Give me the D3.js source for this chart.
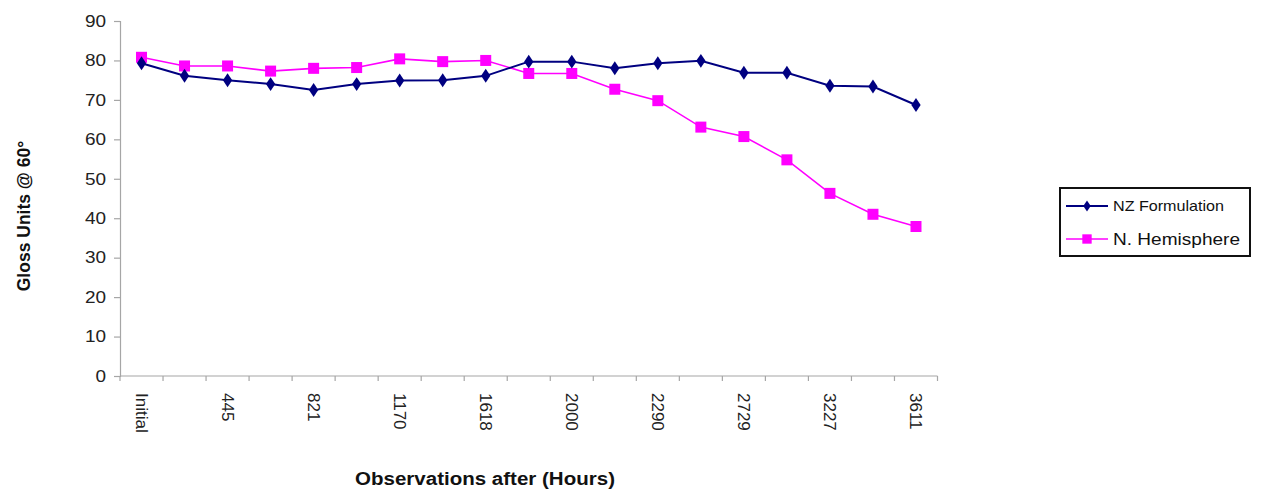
<!DOCTYPE html>
<html>
<head>
<meta charset="utf-8">
<script src="https://cdn.jsdelivr.net/npm/d3@7"></script>
<style>
  html, body { margin: 0; padding: 0; background: #fff; }
  svg { display: block; font-family: "Liberation Sans", Arial, sans-serif; }
</style>
</head>
<body>
<svg id="chart" width="1265" height="490"></svg>
<script>
// Observation points (hours); only every other one carries a printed label
const tickLabels = ["Initial", "", "445", "", "821", "", "1170", "", "1618", "",
                    "2000", "", "2290", "", "2729", "", "3227", "", "3611"];
const categories = tickLabels.map((_, i) => i);

// Gloss units at 60° for each formulation
const nzFormulation = [79.3, 76.1, 75.0, 74.0, 72.5, 74.0, 74.9, 75.0, 76.1, 79.7,
                       79.7, 78.0, 79.3, 79.9, 76.9, 76.9, 73.6, 73.4, 68.7];
const nHemisphere   = [80.8, 78.6, 78.6, 77.3, 78.0, 78.2, 80.4, 79.7, 80.0, 76.7,
                       76.7, 72.7, 69.8, 63.1, 60.7, 54.8, 46.3, 41.0, 37.9];
const yTicks = [0, 10, 20, 30, 40, 50, 60, 70, 80, 90];

const series = [
  { name: "NZ Formulation", values: nzFormulation, color: "#000080", shape: "diamond" },
  { name: "N. Hemisphere",  values: nHemisphere,   color: "#ff00ff", shape: "square" }
];

const svg = d3.select("#chart");
const plot = { left: 120, right: 937.5, top: 21, bottom: 376 };
const axisColor = "#a6a6a6";
const stretch = 1.15; // labels are set slightly wide

const x = d3.scaleBand().domain(categories).range([plot.left, plot.right]);
const y = d3.scaleLinear().domain([0, 90]).range([plot.bottom, plot.top]);

// Y axis
const yAxis = svg.append("g")
  .attr("transform", `translate(${plot.left},0)`)
  .call(d3.axisLeft(y).tickValues(yTicks).tickSize(6).tickFormat(d3.format("d")));
yAxis.select(".domain").attr("stroke", axisColor).attr("stroke-width", 1.2);
yAxis.selectAll(".tick line").attr("stroke", axisColor).attr("stroke-width", 1.2);
yAxis.selectAll(".tick text")
  .attr("x", null)
  .attr("font-size", 16.5).attr("fill", "#222")
  .attr("transform", `translate(-14,0) scale(${stretch},1)`);

// X axis: ticks sit on the category boundaries
const boundaries = categories.map(c => x(c)).concat([plot.right]);
const xg = svg.append("g");
xg.append("line")
  .attr("x1", plot.left).attr("x2", plot.right)
  .attr("y1", plot.bottom).attr("y2", plot.bottom)
  .attr("stroke", axisColor).attr("stroke-width", 1.2);
xg.selectAll("line.tk").data(boundaries).join("line")
  .attr("class", "tk")
  .attr("x1", d => d).attr("x2", d => d)
  .attr("y1", plot.bottom).attr("y2", plot.bottom + 5)
  .attr("stroke", axisColor).attr("stroke-width", 1.2);
xg.selectAll("text").data(categories.filter(c => tickLabels[c] !== "")).join("text")
  .attr("transform", c => `translate(${x(c) + x.bandwidth() / 2},${plot.bottom + 17}) rotate(90)`)
  .attr("dy", "0.35em")
  .attr("text-anchor", "start")
  .attr("font-size", 17)
  .attr("fill", "#222")
  .text(c => tickLabels[c]);

// Axis titles
svg.append("text")
  .attr("transform", `translate(30,216) rotate(-90)`)
  .attr("text-anchor", "middle")
  .attr("font-size", 17.5).attr("font-weight", "bold").attr("fill", "#111")
  .text("Gloss Units @ 60°");
svg.append("text")
  .attr("x", 355).attr("y", 485)
  .attr("font-size", 18).attr("font-weight", "bold").attr("fill", "#111")
  .attr("textLength", 260).attr("lengthAdjust", "spacingAndGlyphs")
  .text("Observations after (Hours)");

// Marker shapes
function drawMarker(g, s, cx, cy, scale = 1) {
  if (s.shape === "square") {
    const w = 11 * scale;
    g.append("rect").attr("x", cx - w / 2).attr("y", cy - w / 2)
      .attr("width", w).attr("height", w).attr("fill", s.color);
  } else {
    g.append("path").attr("d", d3.symbol().type(d3.symbolDiamond).size(62 * scale * scale)())
      .attr("transform", `translate(${cx},${cy}) scale(1.1,0.95)`)
      .attr("fill", s.color);
  }
}

const line = d3.line()
  .x((d, i) => x(categories[i]) + x.bandwidth() / 2)
  .y(d => y(d));

// Draw the magenta series first so the navy series sits on top
[series[1], series[0]].forEach(s => {
  const g = svg.append("g");
  g.append("path").datum(s.values)
    .attr("d", line).attr("fill", "none")
    .attr("stroke", s.color).attr("stroke-width", s.shape === "square" ? 1.6 : 2);
  s.values.forEach((v, i) => drawMarker(g, s, x(categories[i]) + x.bandwidth() / 2, y(v)));
});

// Legend
const legendText = [{ size: 14.5, length: 111 }, { size: 16.5, length: 127 }];
const lg = svg.append("g");
lg.append("rect").attr("x", 1060).attr("y", 188).attr("width", 190).attr("height", 68)
  .attr("fill", "#fff").attr("stroke", "#111").attr("stroke-width", 2);
series.forEach((s, i) => {
  const cy = 206 + i * 33;
  lg.append("line").attr("x1", 1066).attr("x2", 1108).attr("y1", cy).attr("y2", cy)
    .attr("stroke", s.color).attr("stroke-width", s.shape === "square" ? 1.6 : 2);
  drawMarker(lg, s, 1087, cy, s.shape === "square" ? 0.85 : 0.8);
  lg.append("text").attr("x", 1113).attr("y", cy).attr("dy", "0.35em")
    .attr("font-size", legendText[i].size).attr("fill", "#111")
    .attr("textLength", legendText[i].length).attr("lengthAdjust", "spacingAndGlyphs")
    .text(s.name);
});
</script>
</body>
</html>
